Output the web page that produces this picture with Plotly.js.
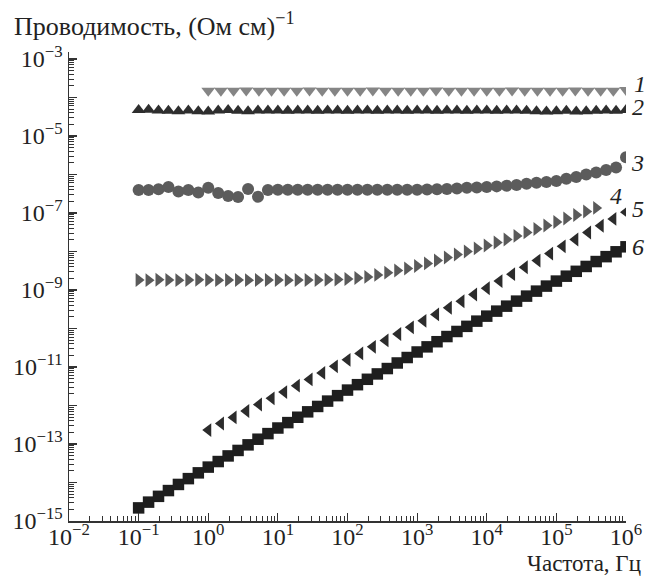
<!DOCTYPE html>
<html>
<head>
<meta charset="utf-8">
<script src="https://cdn.plot.ly/plotly-3.0.1.min.js"></script>
<style>html,body{margin:0;padding:0;background:#fff;}#chart{width:646px;height:577px;}</style>
</head>
<body>
<div id="chart"></div>
<script>
// Frequency grids (Hz)
const freqA = [0.1,0.139,0.193,0.268,0.373,0.518,0.72,
  1,1.39,1.93,2.68,3.73,5.18,7.2,
  10,13.9,19.3,26.8,37.3,51.8,72,
  100,139,193,268,373,518,720,
  1000,1390,1930,2680,3730,5180,7200,
  10000,13900,19300,26800,37300,51800,72000,
  100000,139000,193000,268000,373000,518000,720000,
  1000000];
const freqB = [1,1.52,2.31,3.51,5.34,8.11,12.3,18.7,28.5,43.3,65.8,
  100,152,231,351,534,811,1230,1870,2850,4330,6580,
  10000,15200,23100,35100,53400,81100,123000,187000,285000,433000,658000,1000000];

// Series 1 (inverted triangles), on freqB
const s1 = [1.5e-4,1.49e-4,1.5e-4,1.51e-4,1.5e-4,1.49e-4,1.5e-4,1.5e-4,1.51e-4,1.5e-4,1.49e-4,
  1.5e-4,1.5e-4,1.51e-4,1.5e-4,1.49e-4,1.5e-4,1.5e-4,1.51e-4,1.5e-4,1.5e-4,1.49e-4,
  1.5e-4,1.5e-4,1.51e-4,1.5e-4,1.49e-4,1.5e-4,1.5e-4,1.51e-4,1.5e-4,1.5e-4,1.5e-4,1.55e-4];
// Series 2 (triangles up), on freqA
const s2 = [4.7e-5,4.8e-5,4.6e-5,4.5e-5,4.4e-5,4.6e-5,4.4e-5,4.3e-5,4.6e-5,4.7e-5,4.5e-5,4.4e-5,4.6e-5,4.6e-5,
  4.6e-5,4.5e-5,4.6e-5,4.6e-5,4.5e-5,4.6e-5,4.6e-5,4.5e-5,4.6e-5,4.6e-5,4.5e-5,4.6e-5,4.6e-5,4.5e-5,
  4.6e-5,4.6e-5,4.5e-5,4.6e-5,4.6e-5,4.5e-5,4.6e-5,4.6e-5,4.5e-5,4.6e-5,4.6e-5,4.5e-5,4.4e-5,4.3e-5,
  4.4e-5,4.5e-5,4.3e-5,4.4e-5,4.5e-5,4.6e-5,4.5e-5,4.7e-5];
// Series 3 (circles), on freqA
const s3 = [3.95e-7,3.95e-7,4.1e-7,4.7e-7,3.6e-7,3.95e-7,3.4e-7,4.5e-7,3.3e-7,2.75e-7,2.6e-7,4.2e-7,2.65e-7,3.95e-7,
  4.0e-7,4.0e-7,4.0e-7,4.0e-7,4.0e-7,4.0e-7,4.0e-7,4.0e-7,4.0e-7,4.0e-7,4.0e-7,4.0e-7,4.0e-7,4.0e-7,
  4.0e-7,4.05e-7,4.1e-7,4.2e-7,4.3e-7,4.5e-7,4.6e-7,4.7e-7,4.9e-7,5.1e-7,5.3e-7,5.7e-7,6.1e-7,6.4e-7,
  6.8e-7,7.7e-7,8.6e-7,1.0e-6,1.13e-6,1.3e-6,1.52e-6,2.8e-6];
// Series 4 (triangles right), on freqA (up to ~3.7e5 Hz)
const s4 = [1.82e-9,1.8e-9,1.84e-9,1.82e-9,1.8e-9,1.82e-9,1.84e-9,1.82e-9,1.8e-9,1.82e-9,1.82e-9,1.8e-9,1.82e-9,1.82e-9,
  1.82e-9,1.8e-9,1.82e-9,1.82e-9,1.82e-9,1.84e-9,1.87e-9,1.93e-9,2.05e-9,2.18e-9,2.46e-9,2.82e-9,3.21e-9,3.62e-9,
  4.2e-9,4.89e-9,5.84e-9,6.98e-9,8.35e-9,1.0e-8,1.2e-8,1.43e-8,1.71e-8,2.05e-8,2.53e-8,3.12e-8,3.84e-8,4.73e-8,
  5.83e-8,7.19e-8,8.87e-8,1.09e-7,1.35e-7];
// Series 5 (triangles left), on freqB
const s5 = [2.3e-13,3.4e-13,4.9e-13,7.2e-13,1.06e-12,1.53e-12,2.23e-12,3.27e-12,4.76e-12,7.0e-12,1.04e-11,
  1.53e-11,2.25e-11,3.33e-11,4.9e-11,7.2e-11,1.07e-10,1.58e-10,2.32e-10,3.45e-10,5.1e-10,7.6e-10,
  1.11e-9,1.7e-9,2.57e-9,3.9e-9,5.8e-9,8.8e-9,1.36e-8,2.05e-8,3.1e-8,4.65e-8,7.0e-8,1.05e-7];
// Series 6 (squares), on freqA
const s6 = [2.19e-15,3.09e-15,4.37e-15,6.17e-15,8.9e-15,1.26e-14,1.78e-14,
  2.51e-14,3.5e-14,4.9e-14,6.8e-14,9.5e-14,1.33e-13,1.86e-13,
  2.6e-13,3.59e-13,4.95e-13,6.84e-13,9.44e-13,1.3e-12,1.8e-12,
  2.51e-12,3.47e-12,4.79e-12,6.6e-12,9.1e-12,1.27e-11,1.76e-11,
  2.45e-11,3.33e-11,4.53e-11,6.17e-11,8.36e-11,1.135e-10,1.55e-10,
  2.09e-10,2.82e-10,3.8e-10,5.13e-10,6.92e-10,9.33e-10,1.26e-9,
  1.7e-9,2.28e-9,3.05e-9,4.08e-9,5.47e-9,7.33e-9,9.8e-9,1.32e-8];

const seriesLabels = ['1','2','3','4','5','6'];

// Tick labels
const xTickVals = [1e-2,1e-1,1e0,1e1,1e2,1e3,1e4,1e5,1e6];
const xTickText = ['10<sup>−2</sup>','10<sup>−1</sup>','10<sup>0</sup>','10<sup>1</sup>','10<sup>2</sup>','10<sup>3</sup>','10<sup>4</sup>','10<sup>5</sup>','10<sup>6</sup>'];
const yTickVals = [1e-15,1e-14,1e-13,1e-12,1e-11,1e-10,1e-9,1e-8,1e-7,1e-6,1e-5,1e-4,1e-3];
const yTickText = ['10<sup>−15</sup>',' ','10<sup>−13</sup>',' ','10<sup>−11</sup>',' ','10<sup>−9</sup>',' ','10<sup>−7</sup>',' ','10<sup>−5</sup>',' ','10<sup>−3</sup>'];

function minorVals(e0, e1) {
  const v = [];
  for (let e = e0; e < e1; e++) for (let m = 2; m <= 9; m++) v.push(m * Math.pow(10, e));
  return v;
}

const serif = 'Liberation Serif, Times New Roman, serif';

function tr(x, y, symbol, color, size) {
  return {x: x, y: y, type: 'scatter', mode: 'markers',
    marker: {symbol: symbol, color: color, size: size, line: {width: 0}},
    hoverinfo: 'skip', showlegend: false};
}

const data = [
  tr(freqB, s1, 'triangle-down', '#858585', 12),
  tr(freqA, s2, 'triangle-up', '#2e2e2e', 12),
  tr(freqA, s3, 'circle', '#5c5c5c', 12),
  tr(freqA.slice(0, s4.length), s4, 'triangle-right', '#5a5a5a', 12),
  tr(freqB, s5, 'triangle-left', '#2c2c2c', 12),
  tr(freqA, s6, 'square', '#1e1e1e', 11.5)
];

const labelPos = [[640,84],[638,107],[637,163],[616,196],[638,209],[638,247]];
const L = 69, R = 626, T = 52, B = 521;
function px(x){ return (x - L) / (R - L); }
function py(y){ return (B - y) / (B - T); }

const annotations = seriesLabels.map((t, i) => ({
  text: t, xref: 'paper', yref: 'paper', x: px(labelPos[i][0]), y: py(labelPos[i][1]),
  xanchor: 'center', yanchor: 'middle', showarrow: false,
  font: {family: serif, size: 24, color: '#222', style: 'italic'}
}));
annotations.push({
  text: 'Проводимость, (Ом см)<sup>−1</sup>', xref: 'paper', yref: 'paper',
  x: px(13), y: py(25), xanchor: 'left', yanchor: 'middle', showarrow: false, borderpad: 0,
  font: {family: serif, size: 26, color: '#222'}
});
annotations.push({
  text: 'Частота, Гц', xref: 'paper', yref: 'paper',
  x: px(642), y: py(577), xanchor: 'right', yanchor: 'bottom', showarrow: false, borderpad: 0,
  font: {family: serif, size: 23, color: '#222'}
});

const axisCommon = {
  type: 'log', showgrid: false, zeroline: false, showline: true,
  linecolor: '#333', linewidth: 1.5, ticks: 'inside', ticklen: 8, tickwidth: 1.2,
  tickcolor: '#333', tickmode: 'array',
  tickfont: {family: serif, size: 24, color: '#222'}
};

const layout = {
  width: 646, height: 577,
  margin: {l: L, r: 646 - R, t: T, b: 577 - B},
  paper_bgcolor: '#fff', plot_bgcolor: '#fff',
  showlegend: false,
  xaxis: Object.assign({}, axisCommon, {
    range: [-2, 6], tickvals: xTickVals, ticktext: xTickText, ticklabelstandoff: -6,
    minor: {tickmode: 'array', tickvals: minorVals(-2, 6), ticks: 'inside', ticklen: 5, tickwidth: 1, tickcolor: '#333', showgrid: false}
  }),
  yaxis: Object.assign({}, axisCommon, {
    range: [-15, -2.82], tickvals: yTickVals, ticktext: yTickText,
    minor: {tickmode: 'array', tickvals: minorVals(-15, -3), ticks: 'inside', ticklen: 5, tickwidth: 1, tickcolor: '#333', showgrid: false}
  }),
  annotations: annotations
};

Plotly.newPlot('chart', data, layout, {staticPlot: true, displayModeBar: false});
</script>
</body>
</html>
